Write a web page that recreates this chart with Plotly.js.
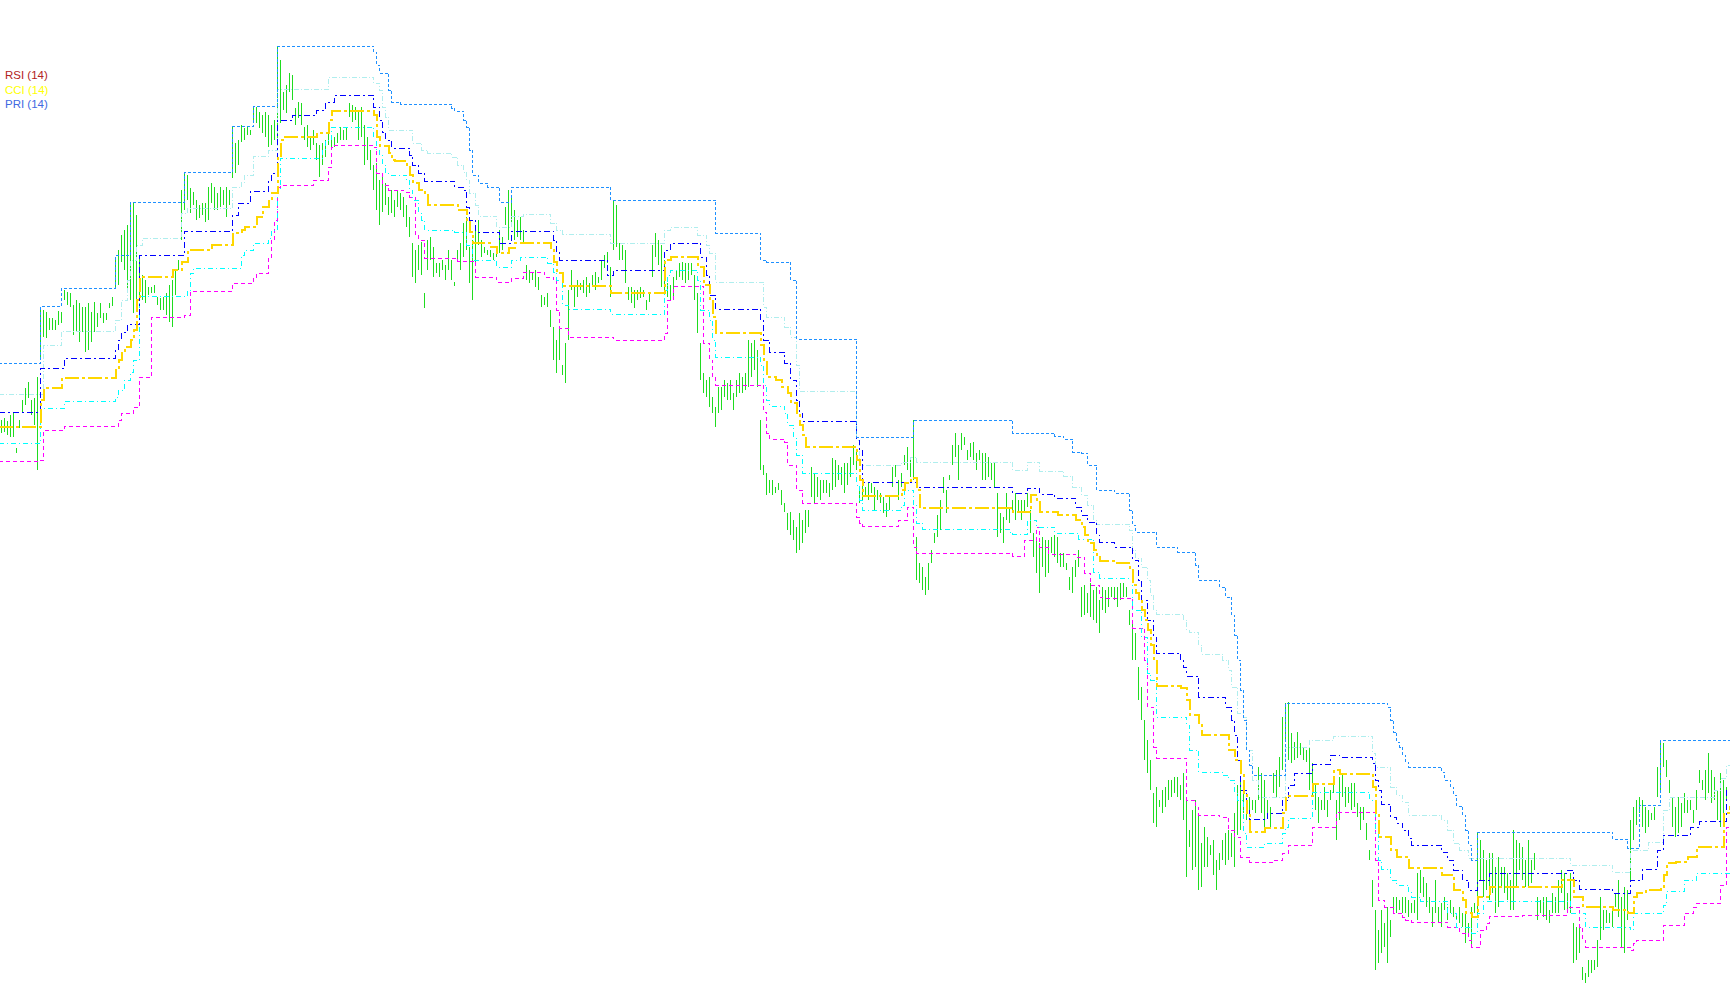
<!DOCTYPE html>
<html><head><meta charset="utf-8">
<script src="https://cdn.plot.ly/plotly-3.0.1.min.js"></script>
<style>
html,body{margin:0;padding:0;background:#fff;overflow:hidden}
#chart{width:1730px;height:1005px}
.scatterlayer path.js-line{shape-rendering:crispEdges}
</style></head>
<body><div id="chart"></div>
<script>
// Bar highs / lows (price units), one bar per slot
const barHigh = [
580,582,579,585,587,552,580,600,612,618,
600,602,623,693,690,688,682,682,680,689,
688,710,708,707,695,700,697,693,693,697,
688,698,687,697,687,687,697,703,740,750,
765,770,775,796,798,785,745,725,720,713,
713,715,703,702,703,707,715,720,730,740,
810,828,825,812,808,800,795,797,797,813,
817,813,807,813,810,813,810,874,857,860,
875,872,873,870,892,893,888,885,888,885,
875,880,953,940,908,915,927,925,892,898,
897,873,875,863,870,857,855,857,860,867,
860,863,867,873,870,872,897,895,893,888,
893,875,863,850,835,837,820,823,817,803,
810,800,810,807,803,795,783,757,750,755,
758,707,760,763,753,737,737,740,735,750,
740,718,750,757,777,783,753,760,770,780,
760,753,750,750,747,753,770,763,793,810,
803,790,780,783,770,735,730,727,730,723,
705,703,707,690,673,660,673,635,657,710,
730,713,720,717,720,723,717,725,728,723,
740,745,748,733,800,795,757,755,750,713,
713,710,710,713,710,700,708,755,767,760,
755,740,717,715,723,730,737,738,737,737,
737,725,707,657,627,620,623,603,593,613,
613,620,617,620,607,620,627,623,627,660,
657,660,650,580,535,527,520,520,513,517,
510,497,487,488,480,473,487,480,490,490,
533,527,523,520,520,520,517,542,540,535,
533,537,537,543,555,550,513,517,513,517,
517,513,510,507,503,497,503,533,535,520,
527,545,553,540,580,463,437,433,423,437,
450,467,485,500,523,510,525,555,567,555,
567,563,550,557,558,547,550,547,547,543,
537,537,507,487,483,507,493,500,507,500,
500,500,507,490,467,463,457,463,460,460,
463,465,463,447,447,437,423,433,440,450,
413,415,407,417,410,413,400,413,410,413,
413,413,413,417,417,413,390,378,367,333,
313,280,260,240,207,213,200,210,213,220,
220,223,223,215,227,200,170,190,200,187,
157,173,163,155,160,140,147,160,167,170,
167,187,215,220,210,200,203,200,200,233,
227,220,200,193,227,230,243,283,297,298,
267,258,268,257,252,250,253,237,217,203,
200,213,200,210,215,200,223,227,213,213,
217,217,197,193,193,177,150,120,90,70,
90,77,93,80,103,103,100,103,103,100,
97,100,127,130,123,117,103,93,120,93,
97,103,93,100,93,87,93,87,87,77,
93,97,167,160,150,140,147,147,133,143,
133,133,127,120,170,160,157,153,140,160,
140,147,103,100,103,103,90,107,103,120,
130,127,107,127,77,73,73,33,27,40,
40,40,60,103,90,90,87,90,107,120,
103,113,110,180,193,200,203,200,193,190,
187,193,233,260,257,240,220,203,193,203,
197,207,200,200,190,210,230,220,230,247,
230,223,210,227,220,213
];
const barLow = [
567,568,565,563,563,547,572,587,595,602,
585,575,530,640,663,662,670,670,670,675,
677,700,695,693,665,668,658,668,648,650,
658,668,673,682,677,680,692,694,712,715,
738,730,710,700,687,690,700,700,697,705,
707,707,695,690,690,685,678,673,705,730,
760,790,800,787,795,780,782,785,778,780,
797,790,790,793,795,783,795,822,827,835,
858,860,865,865,877,877,872,867,863,853,
855,860,860,877,890,887,908,900,875,882,
875,860,853,850,855,840,823,835,843,855,
850,853,857,860,860,860,883,878,880,860,
863,835,840,830,810,790,775,788,795,785,
787,783,793,790,783,773,763,723,717,730,
725,692,730,740,723,727,723,730,720,730,
720,714,738,730,743,750,717,700,737,755,
743,747,745,743,740,743,747,750,775,760,
773,760,763,760,757,720,717,720,713,710,
693,695,693,673,640,627,640,625,617,660,
710,693,703,710,707,703,707,715,710,717,
720,732,737,703,750,753,740,740,717,700,
697,692,700,702,703,690,698,723,743,735,
713,710,703,700,703,720,723,720,717,720,
725,700,667,620,607,603,593,587,573,587,
590,603,600,600,590,603,607,607,610,613,
623,630,613,530,525,505,507,505,507,510,
495,488,470,465,460,447,450,457,467,473,
503,497,503,500,507,507,503,510,513,520,
515,507,515,523,535,530,497,500,503,500,
507,490,500,497,487,483,490,513,523,500,
513,535,530,523,520,420,417,410,405,410,
437,457,463,470,507,487,520,535,543,520,
550,555,540,543,540,530,540,520,520,523,
520,513,463,467,457,480,477,487,480,487,
480,487,493,467,443,427,407,433,423,427,
447,443,437,433,433,430,410,407,423,433,
383,385,387,383,380,377,367,390,387,393,
403,400,393,400,403,403,375,340,340,300,
280,240,227,210,177,173,193,187,193,200,
203,207,203,200,180,123,153,130,133,110,
113,133,133,145,125,110,130,140,135,140,
143,133,165,170,187,180,183,190,187,200,
187,167,187,173,207,203,213,230,260,240,
237,240,242,245,240,238,210,203,190,177,
190,190,183,200,207,160,180,203,193,197,
190,193,183,170,180,160,140,93,30,37,
47,53,37,63,90,87,90,87,87,83,
87,87,80,107,103,93,87,73,87,77,
73,90,80,87,83,80,77,73,57,63,
53,87,87,120,103,110,100,107,87,93,
113,107,100,90,90,113,130,120,113,113,
117,130,80,87,83,80,77,87,87,87,
107,90,87,87,37,40,47,20,17,23,
27,30,33,60,70,77,77,73,93,83,
53,47,80,120,160,175,187,173,167,173,
180,180,203,207,233,223,207,173,163,167,
173,187,187,190,177,190,217,210,200,207,
197,200,180,173,180,200
];

// Channel levels as [bar, price] break points (held until the next point)
const levelTop = [[-1,637],[13,694],[20,712],[38,745],[43,798],[61,828],[77,874],[84,894],[92,954],[124,948],[125,935],[126,927],[129,910],[130,898],[133,896],[150,892],[151,889],[154,880],[155,873],[156,850],[157,825],[159,817],[162,813],[166,798],[170,813],[203,800],[238,767],[253,740],[255,738],[263,720],[265,661],[285,563],[304,580],[337,567],[351,564],[354,561],[357,548],[360,547],[362,535],[365,510],[371,507],[376,490],[377,475],[378,468],[385,453],[392,448],[398,435],[399,420],[406,413],[408,403],[410,385],[411,365],[412,340],[413,310],[414,280],[415,250],[416,235],[417,225],[428,297],[462,293],[463,280],[464,268],[465,258],[466,253],[467,245],[468,238],[469,233],[480,228],[481,220],[483,213],[484,205],[485,194],[487,185],[488,170],[489,155],[490,140],[492,168],[537,161],[542,152],[546,195],[553,260],[577,260]];
const level236 = [[-1,606],[14,655],[20,669],[38,680],[40,700],[42,720],[43,740],[45,755],[47,762],[60,787],[62,792],[77,813],[80,818],[81,825],[84,844],[89,850],[92,911],[109,923],[124,917],[126,910],[127,893],[128,883],[129,870],[137,857],[140,850],[142,847],[150,843],[152,835],[154,828],[155,820],[156,807],[158,795],[159,784],[165,773],[170,784],[174,786],[183,777],[185,770],[187,766],[203,757],[221,770],[223,773],[232,765],[235,755],[236,747],[238,718],[254,693],[255,683],[261,673],[263,663],[265,635],[266,609],[285,560],[286,535],[300,538],[303,543],[305,538],[337,530],[342,538],[346,529],[354,524],[357,513],[360,505],[362,495],[364,480],[365,476],[376,470],[377,450],[378,442],[380,433],[382,420],[383,405],[384,390],[385,386],[394,380],[395,370],[396,368],[399,355],[400,346],[407,340],[409,330],[410,313],[412,287],[414,283],[415,250],[417,220],[419,203],[428,253],[436,260],[444,264],[457,247],[458,233],[463,213],[465,205],[467,198],[469,185],[480,180],[482,170],[484,157],[486,150],[489,142],[523,135],[537,128],[543,150],[549,158],[554,190],[556,203],[571,210],[573,222],[575,235],[577,235]];
const level382 = [[-1,588],[13,632],[21,642],[38,650],[39,660],[40,668],[42,676],[46,745],[61,769],[77,785],[79,797],[83,809],[89,820],[90,827],[92,880],[97,885],[105,890],[108,898],[111,905],[124,893],[126,880],[127,868],[128,860],[130,852],[136,845],[137,835],[139,827],[141,819],[151,813],[154,810],[155,793],[156,780],[158,768],[166,757],[170,769],[184,760],[185,748],[186,740],[202,725],[204,730],[221,750],[223,757],[233,743],[235,725],[236,705],[238,691],[253,680],[254,660],[256,648],[261,637],[263,620],[265,600],[266,587],[267,579],[285,560],[286,550],[287,518],[305,513],[337,507],[342,512],[346,506],[351,502],[358,493],[360,485],[362,478],[365,465],[366,458],[371,453],[377,440],[379,420],[380,400],[382,380],[384,363],[385,347],[393,340],[394,333],[395,324],[399,303],[408,293],[410,280],[411,265],[412,240],[413,210],[415,190],[416,181],[422,187],[427,200],[429,215],[431,227],[437,236],[443,245],[446,243],[457,237],[458,220],[459,210],[460,196],[463,183],[465,177],[467,170],[469,162],[470,155],[480,148],[482,140],[484,130],[487,120],[489,110],[492,120],[496,127],[522,130],[524,120],[526,111],[537,107],[543,120],[547,131],[552,150],[554,165],[563,173],[566,179],[575,210],[577,210]];
const level500 = [[-1,573],[12,573],[13,600],[14,612],[20,622],[38,630],[39,640],[40,648],[41,653],[43,660],[44,670],[45,700],[46,723],[57,730],[60,738],[62,750],[70,755],[77,767],[80,770],[81,773],[85,783],[87,793],[89,800],[90,807],[92,843],[93,860],[94,863],[105,867],[109,880],[110,889],[124,885],[125,863],[126,854],[129,847],[130,840],[131,839],[135,833],[136,825],[137,817],[139,810],[141,805],[142,795],[152,790],[155,780],[156,768],[157,757],[163,753],[165,747],[169,752],[171,757],[183,750],[184,738],[185,727],[187,714],[203,707],[221,740],[223,743],[232,733],[234,715],[236,700],[237,683],[238,667],[253,655],[254,640],[255,623],[258,620],[260,613],[262,607],[263,597],[265,587],[266,575],[267,565],[268,553],[285,540],[286,520],[287,504],[300,510],[301,517],[303,522],[305,510],[306,492],[337,488],[343,505],[345,500],[346,488],[352,485],[358,480],[360,473],[361,465],[362,457],[364,450],[365,443],[366,439],[371,437],[376,430],[377,415],[378,407],[379,400],[380,390],[381,380],[382,370],[383,355],[384,340],[385,314],[393,312],[395,300],[396,285],[399,275],[400,265],[409,250],[411,240],[413,227],[414,205],[415,187],[416,168],[421,172],[427,187],[428,203],[429,204],[437,216],[444,230],[446,226],[457,213],[458,187],[459,163],[463,150],[465,143],[469,132],[480,125],[484,110],[487,100],[488,87],[490,83],[492,103],[496,113],[520,120],[524,103],[527,93],[537,90],[542,87],[544,103],[545,107],[548,110],[553,113],[554,125],[555,137],[558,138],[562,143],[565,153],[574,187],[576,193],[577,193]];
const level618 = [[-1,557],[13,592],[21,599],[38,603],[39,610],[41,620],[43,628],[44,640],[46,704],[62,710],[63,727],[64,732],[80,745],[81,750],[84,757],[89,762],[90,770],[92,810],[93,842],[107,850],[108,860],[110,873],[124,863],[125,850],[126,845],[127,835],[128,827],[129,825],[135,820],[136,810],[137,800],[139,787],[140,780],[141,770],[151,768],[155,755],[157,740],[165,733],[170,740],[173,743],[182,737],[184,728],[185,720],[187,695],[189,691],[203,686],[221,710],[222,725],[223,730],[232,720],[233,690],[236,680],[237,660],[238,643],[253,635],[254,615],[255,600],[256,594],[261,587],[262,575],[264,562],[265,545],[267,527],[285,515],[286,500],[287,490],[300,495],[301,510],[304,495],[305,477],[307,471],[336,468],[337,466],[342,480],[345,473],[351,467],[359,461],[364,428],[366,422],[377,390],[380,363],[382,327],[383,320],[385,283],[395,275],[396,250],[399,228],[407,225],[409,220],[411,207],[412,200],[414,167],[415,153],[421,157],[427,167],[428,173],[429,182],[437,208],[456,200],[458,167],[459,140],[460,131],[463,120],[465,115],[469,108],[470,103],[473,99],[482,87],[485,73],[490,67],[492,87],[494,99],[523,87],[528,73],[543,70],[544,87],[554,95],[555,109],[561,120],[565,127],[577,127]];
const levelBottom = [[-1,539],[13,540],[14,570],[21,574],[39,580],[40,587],[44,593],[46,623],[50,683],[61,685],[63,709],[77,717],[84,722],[85,727],[89,743],[90,760],[91,780],[92,813],[93,815],[104,820],[109,833],[110,853],[111,855],[124,853],[125,827],[127,815],[129,810],[134,808],[136,803],[138,765],[139,760],[141,742],[152,739],[158,723],[165,718],[170,722],[174,728],[181,723],[184,720],[185,690],[186,672],[189,663],[204,660],[221,667],[222,700],[224,714],[234,657],[236,640],[237,623],[238,615],[254,588],[255,567],[256,561],[261,558],[262,535],[265,510],[267,497],[285,483],[286,477],[287,474],[299,480],[302,493],[304,453],[305,447],[337,444],[341,460],[345,473],[346,453],[349,446],[358,443],[361,427],[363,415],[366,403],[367,402],[377,372],[381,340],[382,293],[384,253],[385,242],[395,200],[398,193],[399,185],[406,183],[409,170],[411,163],[413,143],[416,138],[424,140],[427,147],[429,155],[437,173],[445,188],[458,140],[459,100],[461,93],[464,87],[467,83],[468,80],[470,78],[482,73],[486,67],[489,60],[490,53],[493,70],[495,77],[496,84],[507,85],[522,93],[526,73],[527,60],[528,53],[543,50],[544,57],[545,60],[554,75],[561,87],[564,93],[565,97],[573,115],[575,173],[577,173]];

const legendLabels = ["RSI (14)", "CCI (14)", "PRI (14)"];
const legendColors = ["#b22222", "#ffff00", "#4169e1"];

const bx = [], by = [];
for (let i = 0; i < barHigh.length; i++) {
  bx.push(i, i, null);
  by.push(barLow[i], barHigh[i], null);
}
const barTrace = {type:'scatter', mode:'lines', x:bx, y:by, connectgaps:false,
  line:{color:'#1fdc1f', width:1}, hoverinfo:'skip'};

function levelTrace(pts, color, width, dash) {
  return {type:'scatter', mode:'lines', x:pts.map(p => p[0]), y:pts.map(p => p[1]),
    line:{color:color, width:width, dash:dash, shape:'hv'}, hoverinfo:'skip'};
}

const traces = [
  barTrace,
  levelTrace(levelBottom, '#ff00ff', 1, '4px,3px'),
  levelTrace(level618, '#00ffff', 1, '5px,3px,1px,3px'),
  levelTrace(level236, '#afeeee', 1, '5px,2px,1px,2px'),
  levelTrace(level382, '#0000ff', 1, '6px,3px,2px,3px'),
  levelTrace(levelTop, '#1e90ff', 1, '3px,2px'),
  levelTrace(level500, '#ffd700', 2, '14px,3px,3px,3px')
];

const annotations = legendLabels.map((t, k) => ({
  text: t, xref:'paper', yref:'paper', x: 3/1730, y: 1 - (75.5 + 14.2*k)/1005,
  xanchor:'left', yanchor:'middle', showarrow:false,
  font:{family:'Liberation Sans, Arial, sans-serif', size:11.5, color:legendColors[k]}
}));

const layout = {
  width:1730, height:1005, margin:{l:0,r:0,t:0,b:0},
  paper_bgcolor:'#ffffff', plot_bgcolor:'#ffffff', showlegend:false,
  xaxis:{range:[-0.5, 576.1667], visible:false, fixedrange:true},
  yaxis:{range:[-5, 1000], visible:false, fixedrange:true},
  annotations: annotations
};

Plotly.newPlot('chart', traces, layout, {staticPlot:true, displayModeBar:false});
</script>
</body></html>
